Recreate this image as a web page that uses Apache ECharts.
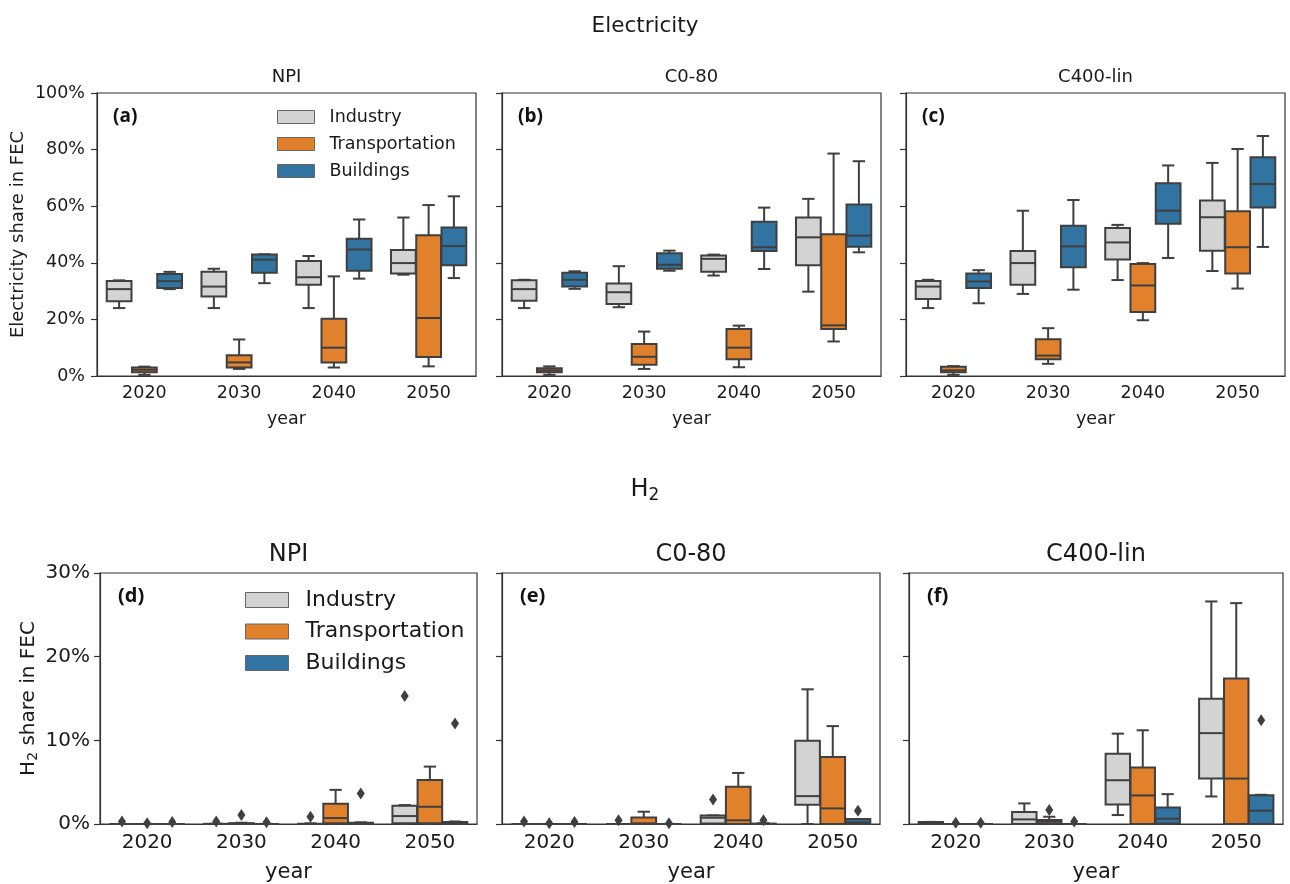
<!DOCTYPE html>
<html lang="en">
<head>
    <meta charset="utf-8">
    <title>Electricity and H2 shares in FEC</title>
    <style>
        html, body {margin: 0; padding: 0; background: #fff;}
        #container {width: 1290px; height: 884px;}
    </style>
</head>
<body>
<div id="container"></div>

<script src="https://cdn.jsdelivr.net/npm/echarts@6/dist/echarts.min.js"></script>
<script>
// categories
var years = ['2020', '2030', '2040', '2050'];
var sectors = ['Industry', 'Transportation', 'Buildings'];
var scenarios = ['NPI', 'C0-80', 'C400-lin'];
var panelTags = ['(a)', '(b)', '(c)', '(d)', '(e)', '(f)'];

// boxes per year: [min, Q1, median, Q3, max] in %
var elecNpiInd = [[24.0, 26.4, 30.7, 33.6, 33.8], [24.0, 28.1, 31.6, 36.8, 37.9], [24.0, 32.2, 34.9, 40.6, 42.4], [35.8, 36.2, 39.9, 44.5, 56.0]];
var elecNpiTra = [[0.4, 1.3, 2.2, 3.0, 3.3], [2.5, 3.0, 4.8, 7.3, 12.9], [3.0, 4.8, 10.0, 20.2, 35.2], [3.4, 6.7, 20.5, 49.7, 60.4]];
var elecNpiBld = [[30.7, 31.1, 33.5, 36.0, 36.8], [32.8, 36.5, 41.1, 42.9, 43.0], [34.4, 37.2, 44.7, 48.5, 55.3], [34.6, 39.1, 45.9, 52.5, 63.5]];

var elecC080Ind = [[24.0, 26.6, 30.7, 33.8, 34.0], [24.3, 25.4, 29.6, 32.7, 38.8], [35.5, 36.8, 41.4, 42.6, 42.9], [29.8, 39.1, 49.0, 56.0, 62.6]];
var elecC080Tra = [[0.4, 1.3, 2.0, 2.7, 3.4], [2.5, 4.0, 6.8, 11.3, 15.7], [3.1, 5.9, 10.0, 16.6, 17.8], [12.2, 16.6, 17.9, 50.1, 78.6]];
var elecC080Bld = [[30.8, 31.6, 34.0, 36.5, 37.0], [37.2, 37.9, 39.3, 43.4, 44.3], [37.8, 44.2, 45.5, 54.5, 59.5], [43.7, 45.7, 49.6, 60.6, 75.9]];

var elecC400Ind = [[24.0, 27.2, 31.6, 33.6, 34.0], [29.0, 32.2, 39.9, 44.2, 58.4], [33.9, 41.2, 47.2, 52.3, 53.4], [37.1, 44.3, 56.1, 62.0, 75.3]];
var elecC400Tra = [[0.4, 1.3, 2.0, 3.3, 3.5], [4.3, 5.9, 7.2, 13.0, 16.9], [19.7, 22.6, 32.0, 39.6, 39.9], [30.9, 36.2, 45.5, 58.2, 80.2]];
var elecC400Bld = [[25.7, 31.1, 33.4, 36.2, 37.4], [30.5, 38.4, 45.8, 53.1, 62.2], [41.7, 53.8, 58.4, 68.1, 74.4], [45.6, 59.5, 67.8, 77.3, 84.8]];

var h2NpiInd = [[0, 0, 0, 0, 0], [0, 0, 0, 0.02, 0.05], [0, 0, 0, 0.03, 0.08], [0, 0.08, 0.95, 2.18, 2.26]];
var h2NpiTra = [[0, 0, 0, 0, 0], [0, 0, 0.02, 0.1, 0.15], [0, 0.08, 0.71, 2.42, 4.08], [0, 0.08, 2.06, 5.27, 6.86]];
var h2NpiBld = [[0, 0, 0, 0, 0], [0, 0, 0, 0, 0.02], [0, 0, 0.05, 0.15, 0.2], [0, 0, 0.1, 0.25, 0.3]];

var h2C080Ind = [[0, 0, 0, 0, 0], [0, 0, 0, 0, 0], [0, 0.05, 0.75, 1.03, 1.03], [0, 2.3, 3.33, 9.95, 16.1]];
var h2C080Tra = [[0, 0, 0, 0, 0], [0, 0, 0.08, 0.79, 1.47], [0, 0, 0.44, 4.44, 6.1], [0, 0, 1.86, 8.0, 11.7]];
var h2C080Bld = [[0, 0, 0, 0, 0], [0, 0, 0, 0, 0], [0, 0, 0, 0.05, 0.1], [0, 0, 0.2, 0.6, 0.6]];

var h2C400Ind = [[0, 0, 0.1, 0.25, 0.25], [0, 0, 0.55, 1.43, 2.46], [1.07, 2.34, 5.23, 8.4, 10.8], [3.29, 5.43, 10.86, 14.98, 26.6]];
var h2C400Tra = [[0, 0, 0, 0, 0], [0, 0.05, 0.3, 0.48, 0.87], [0, 0, 3.41, 6.74, 11.2], [0, 0, 5.43, 17.4, 26.4]];
var h2C400Bld = [[0, 0, 0, 0, 0], [0, 0, 0, 0, 0], [0, 0.05, 0.63, 1.98, 3.57], [0, 0, 1.59, 3.45, 3.49]];

// outliers: [year index, sector index, value %]
var h2NpiOut = [[0, 0, 0.3], [0, 1, 0.1], [0, 2, 0.25], [1, 0, 0.3], [1, 1, 1.07], [1, 2, 0.2], [2, 0, 0.87], [2, 2, 3.65], [3, 0, 15.3], [3, 2, 12.0]];
var h2C080Out = [[0, 0, 0.3], [0, 1, 0.1], [0, 2, 0.25], [1, 0, 0.45], [1, 2, 0.1], [2, 0, 2.93], [2, 2, 0.45], [3, 2, 1.59]];
var h2C400Out = [[0, 1, 0.15], [0, 2, 0.15], [1, 1, 1.66], [1, 2, 0.3], [3, 2, 12.4]];

var EDGE = '#3f3f3f';
var TEXT = '#1a1a1a';
var sectorColors = ['#d3d3d3', '#e1812c', '#3274a1'];

var panels = [
    {boxes: [elecNpiInd, elecNpiTra, elecNpiBld], out: []},
    {boxes: [elecC080Ind, elecC080Tra, elecC080Bld], out: []},
    {boxes: [elecC400Ind, elecC400Tra, elecC400Bld], out: []},
    {boxes: [h2NpiInd, h2NpiTra, h2NpiBld], out: h2NpiOut},
    {boxes: [h2C080Ind, h2C080Tra, h2C080Bld], out: h2C080Out},
    {boxes: [h2C400Ind, h2C400Tra, h2C400Bld], out: h2C400Out}
];

var grids = [
    {left: 97, top: 93, width: 379, height: 283},
    {left: 502, top: 93, width: 379, height: 283},
    {left: 906, top: 93, width: 379, height: 283},
    {left: 100, top: 573, width: 377, height: 253},
    {left: 502, top: 573, width: 378, height: 253},
    {left: 909, top: 573, width: 374, height: 253}
];

// seaborn-like dodge: 3 boxes share 80% of the band
function boxRenderer(k) {
    return function (params, api) {
        var cat = api.value(0);
        var band = api.size([1, 0])[0];
        var slot = band * 0.8 / 3;
        var bw = slot * 0.98;
        var cx = api.coord([cat, 0])[0] + (k - 1) * slot;
        var y = function (i) { return api.coord([cat, api.value(i)])[1]; };
        var yMin = y(1), yQ1 = y(2), yMed = y(3), yQ3 = y(4), yMax = y(5);
        var cap = bw * 0.25;
        var ls = {stroke: EDGE, lineWidth: 2};
        return {
            type: 'group',
            children: [
                {type: 'line', shape: {x1: cx, y1: yQ3, x2: cx, y2: yMax}, style: ls},
                {type: 'line', shape: {x1: cx, y1: yQ1, x2: cx, y2: yMin}, style: ls},
                {type: 'line', shape: {x1: cx - cap, y1: yMax, x2: cx + cap, y2: yMax}, style: ls},
                {type: 'line', shape: {x1: cx - cap, y1: yMin, x2: cx + cap, y2: yMin}, style: ls},
                {type: 'rect', shape: {x: cx - bw / 2, y: yQ3, width: bw, height: yQ1 - yQ3},
                    style: {fill: sectorColors[k], stroke: EDGE, lineWidth: 2}},
                {type: 'line', shape: {x1: cx - bw / 2, y1: yMed, x2: cx + bw / 2, y2: yMed}, style: ls}
            ]
        };
    };
}

function flierRenderer(params, api) {
    var cat = api.value(0);
    var k = api.value(1);
    var band = api.size([1, 0])[0];
    var slot = band * 0.8 / 3;
    var p = api.coord([cat, api.value(2)]);
    var cx = p[0] + (k - 1) * slot, cy = p[1];
    return {
        type: 'polygon',
        shape: {points: [[cx, cy - 6], [cx + 4, cy], [cx, cy + 6], [cx - 4, cy]]},
        style: {fill: EDGE}
    };
}

var myChart = echarts.init(document.getElementById('container'));

var xAxes = [], yAxes = [], series = [], titles = [];

grids.forEach(function (g, p) {
    var top = p < 3;
    var fs = top ? 17.5 : 20;
    xAxes.push({
        type: 'category', gridIndex: p, data: years,
        name: 'year', nameLocation: 'middle', nameGap: top ? 34 : 38,
        nameTextStyle: {fontSize: top ? 17.5 : 21, color: TEXT},
        axisLine: {lineStyle: {color: '#333', width: 1.2}},
        axisTick: {alignWithLabel: true, length: 6, lineStyle: {color: '#333', width: 1.2}},
        axisLabel: {fontSize: fs, color: TEXT, margin: top ? 8 : 9},
        splitLine: {show: false}
    });
    var y = {
        type: 'value', gridIndex: p, min: 0, max: top ? 100 : 30, interval: top ? 20 : 10,
        axisLine: {show: true, lineStyle: {color: '#333', width: 1.2}},
        axisTick: {show: true, length: 6, lineStyle: {color: '#333', width: 1.2}},
        axisLabel: {show: p === 0 || p === 3, fontSize: fs, color: TEXT, margin: top ? 12 : 10, formatter: '{value}%'},
        splitLine: {show: false}
    };
    if (p === 0) {
        y.name = 'Electricity share in FEC';
        y.nameLocation = 'middle';
        y.nameGap = 70;
        y.nameTextStyle = {fontSize: 18, color: TEXT};
    }
    if (p === 3) {
        y.name = '{m|H}{s|2}{m| share in FEC}';
        y.nameLocation = 'middle';
        y.nameGap = 60;
        y.nameTextStyle = {
            color: TEXT,
            rich: {
                m: {fontSize: 20, color: TEXT},
                s: {fontSize: 14, color: TEXT, padding: [9, 0, 0, 0]}
            }
        };
    }
    yAxes.push(y);

    panels[p].boxes.forEach(function (arr, k) {
        series.push({
            type: 'custom', name: sectors[k],
            xAxisIndex: p, yAxisIndex: p,
            data: arr.map(function (b, i) { return [i].concat(b); }),
            encode: {x: 0, y: [1, 2, 3, 4, 5]},
            itemStyle: {color: sectorColors[k], borderColor: EDGE, borderWidth: 1},
            renderItem: boxRenderer(k),
            z: 2
        });
    });
    if (panels[p].out.length) {
        series.push({
            type: 'custom', name: 'outliers',
            xAxisIndex: p, yAxisIndex: p,
            data: panels[p].out,
            encode: {x: 0, y: 2},
            renderItem: flierRenderer,
            z: 3
        });
    }

    titles.push({
        text: scenarios[p % 3], padding: 0,
        left: g.left + g.width / 2, textAlign: 'center',
        top: top ? 68.5 : 543,
        textStyle: {fontSize: top ? 18 : 24, fontWeight: 'normal', color: TEXT}
    });
    titles.push({
        text: panelTags[p], padding: 0,
        left: g.left + (top ? 16 : 18), top: g.top + (top ? 14 : 13),
        textStyle: {fontSize: top ? 19 : 20, fontWeight: 'bold', color: '#111', fontFamily: 'Open Sans'}
    });
});

titles.push({
    text: 'Electricity', left: 'center', top: 15, padding: 0,
    textStyle: {fontSize: 21.5, fontWeight: 'normal', color: TEXT}
});
titles.push({
    text: '{m|H}{s|2}', left: 'center', top: 476, padding: 0,
    textStyle: {
        color: TEXT, fontWeight: 'normal',
        rich: {
            m: {fontSize: 24, color: TEXT, fontWeight: 'normal'},
            s: {fontSize: 17, color: TEXT, fontWeight: 'normal', padding: [11, 0, 0, 0]}
        }
    }
});

var options = {
    animation: false,
    backgroundColor: '#fff',
    textStyle: {fontFamily: 'DejaVu Sans'},
    title: titles,
    legend: [
        {
            data: sectors, orient: 'vertical', left: 277, top: 108, padding: 0,
            icon: 'rect', itemWidth: 37, itemHeight: 13, itemGap: 9,
            itemStyle: {borderColor: '#666', borderWidth: 1},
            textStyle: {fontSize: 17.5, color: TEXT, padding: [0, 0, 0, 10]}
        },
        {
            data: sectors, orient: 'vertical', left: 245, top: 589, padding: 0,
            icon: 'rect', itemWidth: 43, itemHeight: 15, itemGap: 9.5,
            itemStyle: {borderColor: '#666', borderWidth: 1},
            textStyle: {fontSize: 22, color: TEXT, padding: [0, 0, 0, 12]}
        }
    ],
    grid: grids.map(function (g) {
        return {left: g.left, top: g.top, width: g.width, height: g.height,
            show: true, borderColor: '#333', borderWidth: 1.2, backgroundColor: 'transparent'};
    }),
    xAxis: xAxes,
    yAxis: yAxes,
    series: series
};

myChart.setOption(options);
</script>
</body>
</html>
